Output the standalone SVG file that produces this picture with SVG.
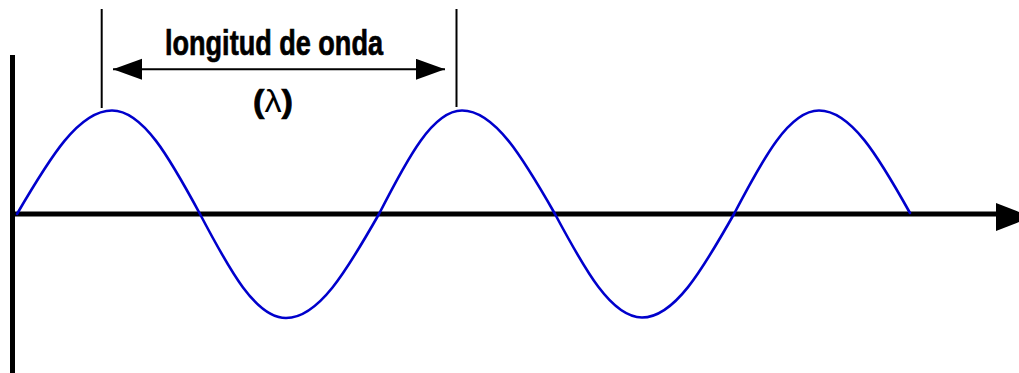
<svg xmlns="http://www.w3.org/2000/svg" width="1019" height="373" viewBox="0 0 1019 373">
  <style>
    .axis { stroke: #000; stroke-width: 5; fill: none; }
    .thin { stroke: #000; stroke-width: 2; fill: none; }
    .wave { stroke: #0000CC; stroke-width: 2.6; fill: none; stroke-linejoin: round; stroke-linecap: round; }
    .lbl { font-family: "Liberation Sans", Arial, sans-serif; font-weight: bold; fill: #000; stroke: #000; stroke-width: 0.7; }
  </style>
  <defs>
    <marker id="dimArrow" markerUnits="userSpaceOnUse" markerWidth="30" markerHeight="22" refX="29" refY="10.5" orient="auto-start-reverse">
      <path d="M0,0 L29,10.5 L0,21 Z" fill="#000"/>
    </marker>
  </defs>
  <rect width="1019" height="373" fill="#fff"/>

  <g id="connectors">
    <line id="y-axis" class="axis" x1="12.5" y1="55" x2="12.5" y2="373"/>
    <line id="x-axis" class="axis" x1="10" y1="214" x2="998" y2="214"/>
    <polygon id="x-axis-head" points="996,203 996,231 1032,217" fill="#000"/>
    <line id="tick-left" class="thin" x1="101.7" y1="9" x2="101.7" y2="108"/>
    <line id="tick-right" class="thin" x1="456.5" y1="9" x2="456.5" y2="107"/>
    <line id="dimension" class="thin" x1="113" y1="69.3" x2="445" y2="69.3" marker-start="url(#dimArrow)" marker-end="url(#dimArrow)"/>
  </g>

  <g id="wave">
    <path class="wave" d="M17,214
      C50.25,157.1 78.75,110.5 112,110.5
      C142.8,110.5 169.2,157.1 200,214
      C230.1,271.2 255.9,318 286,318
      C318.55,318 346.45,271.2 379,214
      C408.05,157.1 432.95,110.5 462,110.5
      C494.55,110.5 522.45,157.1 555,214
      C585.45,270.9 611.55,317.5 642,317.5
      C674.2,317.5 701.8,270.9 734,214
      C763.75,157.1 789.25,110.5 819,110.5
      C850.85,110.5 878.15,156 910,213"/>
  </g>

  <g id="label-wavelength">
    <text class="lbl" x="165" y="55" font-size="35" textLength="218" lengthAdjust="spacingAndGlyphs">longitud de onda</text>
  </g>
  <g id="label-lambda">
    <text class="lbl" x="253" y="112" font-size="31" textLength="40" lengthAdjust="spacingAndGlyphs">(<tspan font-weight="normal" stroke-width="0">λ</tspan>)</text>
  </g>
</svg>
